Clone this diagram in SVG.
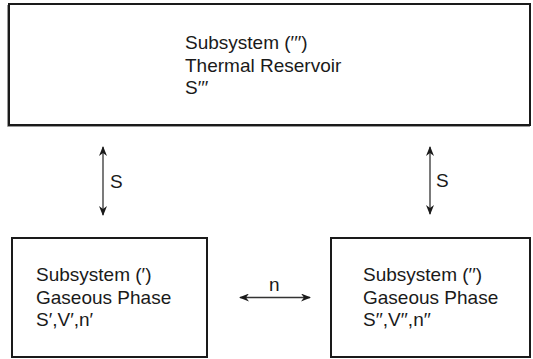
<svg xmlns="http://www.w3.org/2000/svg" width="533" height="359" viewBox="0 0 533 359">
<style>
.box{fill:#fff;stroke:#1a1a1a;stroke-width:2}
.t{font-family:"Liberation Sans",Arial,sans-serif;font-size:19px;fill:#1a1a1a}
.c{stroke:#333;stroke-width:1.3;fill:none}
</style>
<defs>
<marker id="ah" viewBox="0 0 10 8" refX="9" refY="4" markerWidth="10" markerHeight="8" markerUnits="userSpaceOnUse" orient="auto-start-reverse">
<path d="M0,0 L10,4 L0,8 L3,4 Z" fill="#1a1a1a"/>
</marker>
</defs>
<rect width="533" height="359" fill="#fff"/>
<g id="reservoir">
<path d="M7.5,5 V126.5 H530" stroke="#999" stroke-width="1" fill="none"/>
<rect class="box" x="9" y="4" width="521" height="121"/>
<text class="t" x="185" y="49">Subsystem (′′′)</text>
<text class="t" x="185" y="71.5">Thermal Reservoir</text>
<text class="t" x="185" y="94">S′′′</text>
</g>
<g id="sub1">
<rect class="box" x="12" y="238" width="195" height="119"/>
<text class="t" x="36" y="281">Subsystem (′)</text>
<text class="t" x="36" y="303.5">Gaseous Phase</text>
<text class="t" x="36" y="326">S′,V′,n′</text>
</g>
<g id="sub2">
<rect class="box" x="331" y="238" width="199" height="119"/>
<text class="t" x="363" y="281">Subsystem (′′)</text>
<text class="t" x="363" y="303.5">Gaseous Phase</text>
<text class="t" x="363" y="326">S′′,V′′,n′′</text>
</g>
<g id="connectors">
<line class="c" x1="103" y1="147" x2="103" y2="215" marker-start="url(#ah)" marker-end="url(#ah)"/>
<text class="t" x="110" y="188">S</text>
<line class="c" x1="430" y1="147" x2="430" y2="214" marker-start="url(#ah)" marker-end="url(#ah)"/>
<text class="t" x="436" y="187">S</text>
<line class="c" x1="240" y1="297.5" x2="310" y2="297.5" marker-start="url(#ah)" marker-end="url(#ah)"/>
<text class="t" x="269" y="291">n</text>
</g>
</svg>
